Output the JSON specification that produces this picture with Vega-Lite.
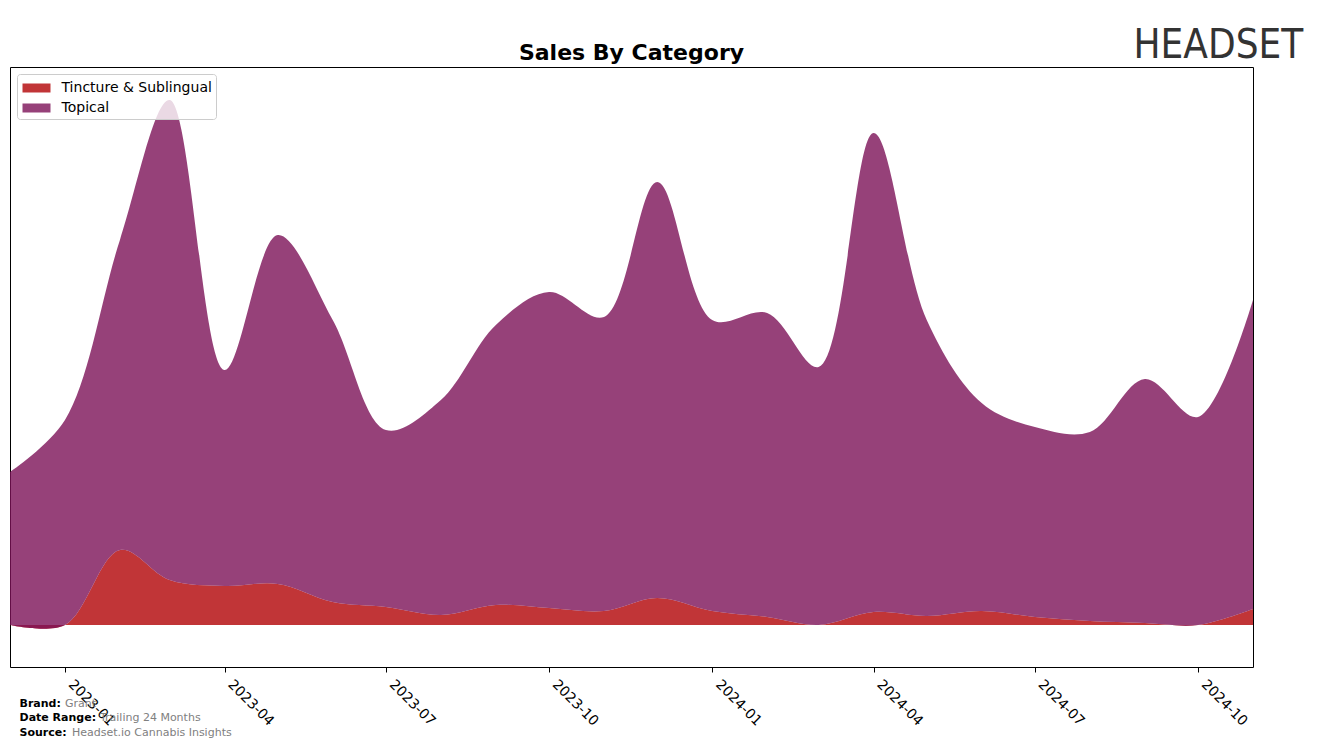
{
  "$schema": "https://vega.github.io/schema/vega-lite/v6.json",
  "width": 1243,
  "height": 600,
  "autosize": {"type": "none"},
  "padding": {"left": 10, "top": 67, "right": 64, "bottom": 81},
  "background": "white",
  "config": {
    "font": "DejaVu Sans",
    "view": {"stroke": "black", "strokeWidth": 1},
    "axis": {"grid": false}
  },
  "title": {
    "text": "Sales By Category",
    "fontSize": 22,
    "fontWeight": "bold",
    "font": "DejaVu Sans",
    "anchor": "middle",
    "frame": "group",
    "baseline": "alphabetic",
    "offset": -57,
    "color": "black"
  },
  "data": {
    "values": [
      {"date": "2022-12-01", "category": "Tincture & Sublingual", "value": 0},
      {"date": "2023-01-01", "category": "Tincture & Sublingual", "value": 0},
      {"date": "2023-02-01", "category": "Tincture & Sublingual", "value": 75},
      {"date": "2023-03-01", "category": "Tincture & Sublingual", "value": 45},
      {"date": "2023-04-01", "category": "Tincture & Sublingual", "value": 39},
      {"date": "2023-05-01", "category": "Tincture & Sublingual", "value": 41},
      {"date": "2023-06-01", "category": "Tincture & Sublingual", "value": 23},
      {"date": "2023-07-01", "category": "Tincture & Sublingual", "value": 18},
      {"date": "2023-08-01", "category": "Tincture & Sublingual", "value": 10},
      {"date": "2023-09-01", "category": "Tincture & Sublingual", "value": 20},
      {"date": "2023-10-01", "category": "Tincture & Sublingual", "value": 17},
      {"date": "2023-11-01", "category": "Tincture & Sublingual", "value": 14},
      {"date": "2023-12-01", "category": "Tincture & Sublingual", "value": 27},
      {"date": "2024-01-01", "category": "Tincture & Sublingual", "value": 14},
      {"date": "2024-02-01", "category": "Tincture & Sublingual", "value": 8},
      {"date": "2024-03-01", "category": "Tincture & Sublingual", "value": 0},
      {"date": "2024-04-01", "category": "Tincture & Sublingual", "value": 13},
      {"date": "2024-05-01", "category": "Tincture & Sublingual", "value": 9},
      {"date": "2024-06-01", "category": "Tincture & Sublingual", "value": 14},
      {"date": "2024-07-01", "category": "Tincture & Sublingual", "value": 8},
      {"date": "2024-08-01", "category": "Tincture & Sublingual", "value": 4},
      {"date": "2024-09-01", "category": "Tincture & Sublingual", "value": 2},
      {"date": "2024-10-01", "category": "Tincture & Sublingual", "value": 0},
      {"date": "2024-11-01", "category": "Tincture & Sublingual", "value": 16},
      {"date": "2022-12-01", "category": "Topical", "value": 153},
      {"date": "2023-01-01", "category": "Topical", "value": 205},
      {"date": "2023-02-01", "category": "Topical", "value": 310},
      {"date": "2023-03-01", "category": "Topical", "value": 480},
      {"date": "2023-04-01", "category": "Topical", "value": 216},
      {"date": "2023-05-01", "category": "Topical", "value": 349},
      {"date": "2023-06-01", "category": "Topical", "value": 282},
      {"date": "2023-07-01", "category": "Topical", "value": 177},
      {"date": "2023-08-01", "category": "Topical", "value": 215},
      {"date": "2023-09-01", "category": "Topical", "value": 280},
      {"date": "2023-10-01", "category": "Topical", "value": 316},
      {"date": "2023-11-01", "category": "Topical", "value": 294},
      {"date": "2023-12-01", "category": "Topical", "value": 416},
      {"date": "2024-01-01", "category": "Topical", "value": 291},
      {"date": "2024-02-01", "category": "Topical", "value": 304},
      {"date": "2024-03-01", "category": "Topical", "value": 258},
      {"date": "2024-04-01", "category": "Topical", "value": 479},
      {"date": "2024-05-01", "category": "Topical", "value": 296},
      {"date": "2024-06-01", "category": "Topical", "value": 208},
      {"date": "2024-07-01", "category": "Topical", "value": 190},
      {"date": "2024-08-01", "category": "Topical", "value": 189},
      {"date": "2024-09-01", "category": "Topical", "value": 244},
      {"date": "2024-10-01", "category": "Topical", "value": 208},
      {"date": "2024-11-01", "category": "Topical", "value": 309}
    ]
  },
  "encoding": {
    "x": {
      "field": "date",
      "type": "temporal",
      "scale": {"type": "utc", "nice": false},
      "axis": {
        "labelExpr": "utcFormat(datum.value, '%Y-%m')",
        "tickCount": {"interval": "month", "step": 3},
        "labelAngle": 45,
        "labelAlign": "left",
        "labelBaseline": "top",
        "labelFontSize": 14,
        "labelColor": "black",
        "labelPadding": 5,
        "labelOffset": 10,
        "labelOverlap": false,
        "labelBound": false,
        "labelFlush": false,
        "tickColor": "black",
        "tickSize": 5,
        "domain": false,
        "title": ["\u200b\u00a0\u00a0\u00a0\u00a0\u00a0\u00a0\u00a0\u00a0\u00a0\u00a0\u00a0\u00a0\u00a0Grant", "\u200b\u00a0\u00a0\u00a0\u00a0\u00a0\u00a0\u00a0\u00a0\u00a0\u00a0\u00a0\u00a0\u00a0\u00a0\u00a0\u00a0\u00a0\u00a0\u00a0\u00a0\u00a0\u00a0\u00a0Trailing 24 Months", "\u200b\u00a0\u00a0\u00a0\u00a0\u00a0\u00a0\u00a0\u00a0\u00a0\u00a0\u00a0\u00a0\u00a0\u00a0\u00a0Headset.io Cannabis Insights"],
        "titleX": 9,
        "titleY": 39,
        "titleAlign": "left",
        "titleBaseline": "alphabetic",
        "titleAngle": 0,
        "titleFontSize": 11,
        "titleFontWeight": "normal",
        "titleColor": "#808080",
        "titleLineHeight": 14.5
      }
    }
  },
  "layer": [
    {
      "mark": {"type": "area", "interpolate": "catmull-rom", "opacity": 0.8},
      "encoding": {
        "y": {
          "field": "value",
          "type": "quantitative",
          "stack": "zero",
          "scale": {"domain": [-42, 558], "nice": false, "zero": false},
          "axis": {
            "labels": false,
            "ticks": false,
            "domain": false,
            "grid": false,
            "title": ["Brand:", "Date Range:", "Source:"],
            "titleX": 9,
            "titleY": 639,
            "titleAngle": 0,
            "titleAlign": "left",
            "titleBaseline": "alphabetic",
            "titleFontSize": 11,
            "titleFontWeight": "bold",
            "titleColor": "black",
            "titleLineHeight": 14.5
          }
        },
        "color": {
          "field": "category",
          "type": "nominal",
          "scale": {"domain": ["Tincture & Sublingual", "Topical"], "range": ["#B20305", "#7C1258"]},
          "legend": {
            "title": null,
            "orient": "top-left",
            "offset": 7,
            "labelFontSize": 14,
            "labelColor": "black",
            "symbolType": "M-1.4,-0.45H1.4V0.45H-1.4Z",
            "symbolSize": 400,
            "symbolStrokeWidth": 0,
            "symbolOffset": 5.5,
            "rowPadding": 3,
            "padding": 4,
            "labelOffset": 15,
            "strokeColor": "#cccccc",
            "fillColor": "rgba(255,255,255,0.8)",
            "cornerRadius": 3
          }
        },
        "order": {"field": "category", "sort": "ascending"}
      }
    },
    {
      "mark": {"type": "point", "opacity": 0},
      "encoding": {
        "y": {
          "field": "value",
          "type": "quantitative",
          "scale": {"domain": [-42, 558], "nice": false, "zero": false},
          "axis": {
            "orient": "right",
            "labels": false,
            "ticks": false,
            "domain": false,
            "grid": false,
            "title": "HEADSET",
            "titleX": -120,
            "titleY": -10,
            "titleAngle": 0,
            "titleAlign": "left",
            "titleBaseline": "alphabetic",
            "titleFont": "DejaVu Sans Condensed",
            "titleFontSize": 40,
            "titleFontWeight": "normal",
            "titleColor": "#333333"
          }
        }
      }
    }
  ],
  "resolve": {"scale": {"y": "independent"}, "axis": {"y": "independent"}}
}
